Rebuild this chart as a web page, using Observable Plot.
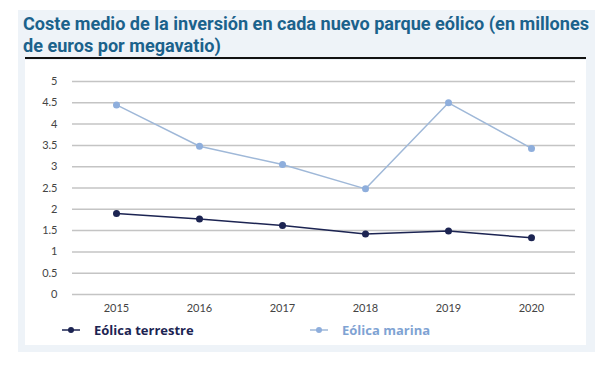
<!DOCTYPE html>
<html>
<head>
<meta charset="utf-8">
<script src="https://cdn.jsdelivr.net/npm/d3@7"></script>
<script src="https://cdn.jsdelivr.net/npm/@observablehq/plot@0.6"></script>
<style>
  html, body { margin: 0; padding: 0; background: #ffffff; }
  #outer { position: absolute; left: 18px; top: 10px; width: 577px; height: 342px; background: #eef3f8; }
  #title { position: absolute; left: 5px; top: 3px; font-family: Roboto, sans-serif; font-weight: bold; font-size: 19px; line-height: 22px; color: #1b628c; white-space: nowrap; transform-origin: 0 0; }
  #rule { position: absolute; left: 7px; top: 47px; width: 561px; height: 2px; background: #111; }
  #panel { position: absolute; left: 7px; top: 50px; width: 561px; height: 285px; background: #ffffff; }
  #chart { position: absolute; left: 0px; top: 2px; }
  .leg { position: absolute; top: 262px; font-family: "Open Sans", sans-serif; font-weight: bold; font-size: 13px; line-height: 16px; display: flex; align-items: center; }
  .leg svg { margin-right: 14px; }
</style>
</head>
<body>
<div id="outer">
  <div id="title">Coste medio de la inversión en cada nuevo parque eólico (en millones<br>de euros por megavatio)</div>
  <div id="rule"></div>
  <div id="panel">
    <div id="chart"></div>
  </div>
</div>
<script>
const years = ["2015", "2016", "2017", "2018", "2019", "2020"];
const terrestre = [1.9, 1.77, 1.62, 1.42, 1.49, 1.33];
const marina = [4.45, 3.48, 3.05, 2.48, 4.5, 3.43];
const yTicks = [0, 0.5, 1, 1.5, 2, 2.5, 3, 3.5, 4, 4.5, 5];
const seriesNames = ["Eólica terrestre", "Eólica marina"];
const lineColors = ["#1c2452", "#9fb8d8"];
const dotColors = ["#1c2452", "#8eaedc"];
const textColors = ["#1c2452", "#7fa3d3"];

const titleEl = document.getElementById("title");
const tw = titleEl.getBoundingClientRect().width;
titleEl.style.transform = `scaleX(${566 / tw})`;

const data = [];
years.forEach((y, i) => {
  data.push({year: y, value: terrestre[i], series: seriesNames[0]});
  data.push({year: y, value: marina[i], series: seriesNames[1]});
});

const chart = Plot.plot({
  width: 561,
  height: 262,
  marginLeft: 47,
  marginRight: 11,
  marginTop: 19,
  marginBottom: 30,
  style: {fontFamily: "Lato, sans-serif", fontSize: "11px", color: "#444", background: "transparent"},
  x: {type: "point", domain: years, padding: 0.5, label: null},
  y: {domain: [0, 5], label: null},
  color: {domain: seriesNames, range: lineColors},
  marks: [
    Plot.ruleY(yTicks, {stroke: "#c4c4c4", strokeWidth: 1.5}),
    Plot.line(data, {x: "year", y: "value", z: "series", stroke: "series", strokeWidth: 1.5}),
    Plot.dot(data, {x: "year", y: "value", fill: d => dotColors[seriesNames.indexOf(d.series)], r: 3.5}),
    Plot.axisX({tickSize: 0, tickPadding: 10, fill: "#444"}),
    Plot.axisY({ticks: yTicks, tickSize: 0, tickPadding: 15, tickFormat: d => String(d), fill: "#444"})
  ]
});
document.getElementById("chart").appendChild(chart);

const panel = document.getElementById("panel");
const legLeft = [37, 285];
seriesNames.forEach((name, i) => {
  const div = document.createElement("div");
  div.className = "leg";
  div.style.left = legLeft[i] + "px";
  div.style.color = textColors[i];
  div.innerHTML = `<svg width="18" height="8"><line x1="0" y1="4" x2="18" y2="4" stroke="${lineColors[i]}" stroke-width="1.5"/><circle cx="9" cy="4" r="3" fill="${dotColors[i]}"/></svg>`;
  div.appendChild(document.createTextNode(name));
  panel.appendChild(div);
});
</script>
</body>
</html>
